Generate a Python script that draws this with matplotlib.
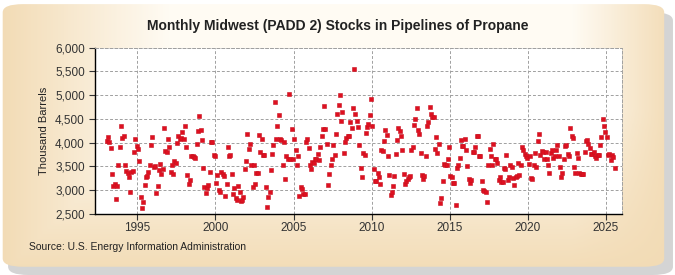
import numpy as np
import matplotlib
matplotlib.use("Agg")
import matplotlib.pyplot as plt
from matplotlib.ticker import FuncFormatter, MultipleLocator
from matplotlib.patches import FancyBboxPatch

# monthly stocks, thousand barrels (Jan..Dec)
s1993 = [4030, 4110, 4010, 3880, 3330, 3080, 3140, 2820, 3080, 3520, 3900, 4340]
s1994 = [4090, 4140, 3520, 3410, 3360, 3270, 2970, 3380, 3410, 3800, 4070, 3920]
s1995 = [3870, 3610, 2850, 2620, 2760, 3100, 3270, 3290, 3390, 3520, 3960, 4120]
s1996 = [3490, 3500, 2940, 3080, 3430, 3560, 3330, 3450, 4300, 3830, 3810, 4080]
s1997 = [3900, 3390, 3520, 3340, 3620, 3580, 3990, 4150, 4080, 4100, 4220, 4080]
s1998 = [4340, 3900, 3320, 3120, 3220, 3710, 3710, 3700, 3680, 3980, 4240, 4560]
s1999 = [4270, 4050, 3460, 3060, 2950, 3040, 3100, 3390, 4010, 4010, 3730, 3710]
s2000 = [3150, 3310, 3000, 2960, 3380, 3330, 3290, 2870, 3140, 3900, 3710, 3750]
s2001 = [3330, 2910, 3050, 2840, 2800, 3080, 2960, 2780, 2790, 2860, 3450, 3610]
s2002 = [4190, 3870, 3980, 3520, 3060, 3540, 3140, 3360, 3360, 4170, 3800, 4080]
s2003 = [3740, 3740, 3060, 2650, 2850, 2960, 3430, 3770, 3960, 4850, 4080, 4340]
s2004 = [4590, 4070, 4050, 3520, 4020, 3240, 3710, 3660, 5020, 3660, 4290, 3660]
s2005 = [4070, 3850, 3540, 3710, 2870, 3060, 3030, 2920, 2930, 4010, 4070, 3890]
s2006 = [3540, 3440, 3590, 3580, 3650, 3660, 3770, 3640, 3900, 4140, 4280, 4770]
s2007 = [4280, 3970, 3100, 3330, 3540, 3660, 3940, 3750, 4190, 4600, 4800, 5010]
s2008 = [4450, 4640, 3780, 4010, 4100, 4140, 4150, 4430, 4310, 4730, 5540, 4600]
s2009 = [4450, 4320, 3940, 3460, 3280, 3790, 3750, 4200, 4320, 4390, 4580, 4920]
s2010 = [4360, 3440, 3200, 3200, 3360, 3280, 3140, 3840, 3820, 4040, 4270, 4170]
s2011 = [3720, 3310, 2900, 2970, 3080, 3290, 3770, 4060, 4300, 4250, 4140, 3850]
s2012 = [3330, 3140, 3200, 3240, 3270, 3290, 3840, 3910, 4380, 4490, 4730, 4270]
s2013 = [4190, 3790, 3310, 3240, 3290, 3720, 4360, 4440, 4750, 4600, 4540, 4540]
s2014 = [3870, 4110, 3790, 3980, 2740, 2840, 3200, 3560, 3530, 3520, 3650, 3910]
s2015 = [3290, 3270, 3160, 3160, 2690, 3460, 3540, 3670, 4060, 3920, 3920, 4080]
s2016 = [3850, 3500, 3240, 3160, 3210, 3800, 3810, 3900, 4150, 4140, 3710, 3710]
s2017 = [3200, 3010, 2990, 2960, 2750, 3540, 3870, 3710, 3520, 3980, 3660, 3660]
s2018 = [3580, 3220, 3270, 3180, 3180, 3470, 3450, 3730, 3220, 3270, 3540, 3480]
s2019 = [3250, 3100, 3270, 3290, 3570, 3310, 3520, 3900, 3850, 3760, 3710, 3680]
s2020 = [3560, 3710, 3250, 3230, 3530, 3790, 3480, 4040, 4180, 3730, 3830, 3800]
s2021 = [3660, 3800, 3660, 3520, 3370, 3780, 3840, 3670, 3720, 3840, 3940, 3720]
s2022 = [3490, 3270, 3370, 3650, 3920, 3960, 3770, 3710, 4300, 4130, 4090, 3480]
s2023 = [3370, 3790, 3670, 3370, 3340, 3340, 3340, 3800, 4030, 4050, 3970, 3890]
s2024 = [3760, 3770, 3800, 3710, 3680, 3730, 3730, 3940, 4110, 4490, 4360, 4220]
s2025 = [4110, 3750, 3760, 3640, 3750, 3700, 3470]

years = list(range(1993, 2026))
series = [s1993, s1994, s1995, s1996, s1997, s1998, s1999, s2000, s2001, s2002,
          s2003, s2004, s2005, s2006, s2007, s2008, s2009, s2010, s2011, s2012,
          s2013, s2014, s2015, s2016, s2017, s2018, s2019, s2020, s2021, s2022,
          s2023, s2024, s2025]

x = []
y = []
for yr, vals in zip(years, series):
    for m, v in enumerate(vals):
        x.append(yr + (m + 0.5) / 12)
        y.append(v)

plt.rcParams['font.family'] = ['Liberation Sans Narrow', 'Liberation Sans', 'DejaVu Sans']

fig = plt.figure(figsize=(6.75, 2.75), dpi=100)
fig.patch.set_facecolor('white')

# beige panel background with soft gradient
bg = fig.add_axes([0, 0, 1, 1], zorder=-10)
bg.set_xlim(0, 1)
bg.set_ylim(0, 1)
bg.axis('off')
gx = np.linspace(0, 1, 200)
gy = np.linspace(0, 1, 100)
GX, GY = np.meshgrid(gx, gy)
t = np.clip(np.minimum(GX / 0.25, (1 - GY) / 0.6), 0, 1) * np.clip((1 - GX) / 0.15, 0, 1)
c1 = np.array([0.95, 0.86, 0.71])
c2 = np.array([1.0, 0.985, 0.955])
img = c1[None, None, :] * (1 - t[..., None]) + c2[None, None, :] * t[..., None]
shadow = FancyBboxPatch((0.012, 0.0), 0.985, 0.955, boxstyle="round,pad=0,rounding_size=0.03",
                        transform=bg.transAxes, facecolor='#b8b8b8', edgecolor='none', alpha=0.6)
bg.add_patch(shadow)
panel = FancyBboxPatch((0.004, 0.03), 0.98, 0.955, boxstyle="round,pad=0,rounding_size=0.03",
                       transform=bg.transAxes, facecolor='none', edgecolor='none')
bg.add_patch(panel)
im = bg.imshow(img, extent=[0, 1, 0, 1], aspect='auto', origin='upper', zorder=1)
im.set_clip_path(panel)

ax = fig.add_axes([0.141, 0.222, 0.78, 0.605])
ax.set_facecolor('white')
ax.plot(x, y, linestyle='none', marker='s', markersize=3.4,
        markerfacecolor='#de1020', markeredgecolor='#c8101e', markeredgewidth=0.4, zorder=3)

ax.set_xlim(1992.3, 2026.0)
ax.set_ylim(2500, 6000)
ax.xaxis.set_major_locator(MultipleLocator(5))
ax.yaxis.set_major_locator(MultipleLocator(500))
ax.yaxis.set_major_formatter(FuncFormatter(lambda v, p: f"{int(v):,}"))
ax.grid(True, color='#a0a0a0', linestyle=(0, (3, 2)), linewidth=0.7)
ax.set_axisbelow(True)
for s in ['top', 'right']:
    ax.spines[s].set_color('#a0a0a0')
    ax.spines[s].set_linestyle((0, (3, 2)))
    ax.spines[s].set_linewidth(0.7)
for s in ['left', 'bottom']:
    ax.spines[s].set_color('black')
    ax.spines[s].set_linewidth(1.0)
ax.tick_params(axis='both', labelsize=8.5, colors='#333333', length=4, width=0.8)
ax.tick_params(axis='x', pad=2)
ax.set_ylabel("Thousand Barrels", fontsize=8, color='#222222', labelpad=4)

fig.text(0.5, 0.905, "Monthly Midwest (PADD 2) Stocks in Pipelines of Propane",
         ha='center', va='center', fontsize=10, fontweight='bold', color='#222222')
fig.text(0.043, 0.1, "Source: U.S. Energy Information Administration",
         ha='left', va='center', fontsize=7.5, color='#222222')

fig.savefig("out.png", dpi=100)
